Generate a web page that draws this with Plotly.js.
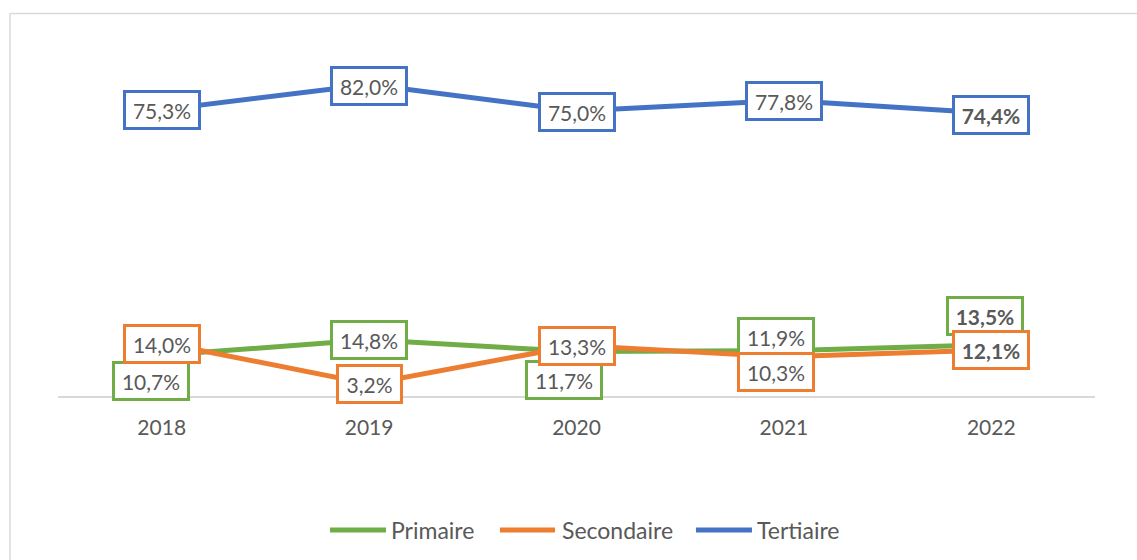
<!DOCTYPE html>
<html>
<head>
<meta charset="utf-8">
<script src="https://cdn.plot.ly/plotly-3.0.1.min.js"></script>
<style>html,body{margin:0;padding:0;background:#fff;}#chart{width:1137px;height:560px;}</style>
</head>
<body>
<div id="chart"></div>
<script>
const years = ['2018', '2019', '2020', '2021', '2022'];
const primaire = [10.7, 14.8, 11.7, 11.9, 13.5];
const secondaire = [14.0, 3.2, 13.3, 10.3, 12.1];
const tertiaire = [75.3, 82.0, 75.0, 77.8, 74.4];
const seriesNames = ['Primaire', 'Secondaire', 'Tertiaire'];
const colors = ['#70AD47', '#ED7D31', '#4472C4'];

// label offsets (pixels) per point, style only
const offsets = {
  Primaire:   [[-11, -26], [0, 0], [-13, -28], [-8, 14], [-6, 29]],
  Secondaire: [[0, -1], [0, 0], [0, -1], [-8, -15], [0, 0]],
  Tertiaire:  [[0, 0], [0, -1.5], [0, -1], [0, -0.6], [0, -1.7]]
};

// custom legend placement (paper coords), style only
const legendPos = [
  {x0: 0.2623, x1: 0.3163, tx: 0.3192},
  {x0: 0.4262, x1: 0.4793, tx: 0.4841},
  {x0: 0.6152, x1: 0.6692, tx: 0.6721}
];
const legendY = -0.392;

const allSeries = [primaire, secondaire, tertiaire];
const FONT = 'Lato, "Open Sans", sans-serif';

const traces = allSeries.map((vals, i) => ({
  type: 'scatter', mode: 'lines', name: seriesNames[i],
  x: years, y: vals,
  line: {color: colors[i], width: 5},
  hoverinfo: 'skip', showlegend: false
}));

function fmt(v) { return v.toFixed(1).replace('.', ',') + '%'; }

const annotations = [];
[2, 0, 1].forEach(i => {
  const vals = allSeries[i];
  const offs = offsets[seriesNames[i]];
  vals.forEach((v, j) => {
    const txt = fmt(v);
    const last = j === vals.length - 1;
    annotations.push({
      x: j, y: v, xref: 'x', yref: 'y',
      text: last ? '<b>' + txt + '</b>' : txt,
      showarrow: false,
      xshift: offs[j][0], yshift: offs[j][1],
      font: {family: FONT, size: 21, color: '#595959'},
      bgcolor: '#ffffff', bordercolor: colors[i], borderwidth: 3, borderpad: 0,
      width: txt.length <= 4 ? 61 : 72, height: 34,
      align: 'center', valign: 'middle'
    });
  });
});

const shapes = [
  {type: 'line', xref: 'paper', yref: 'paper', x0: -0.0463, x1: 1.1, y0: 1.1184, y1: 1.1184,
   line: {color: '#d9d9d9', width: 1.5}},
  {type: 'line', xref: 'paper', yref: 'paper', x0: -0.0463, x1: -0.0463, y0: 1.1184, y1: -0.6,
   line: {color: '#d9d9d9', width: 1.5}}
];

seriesNames.forEach((name, i) => {
  const p = legendPos[i];
  shapes.push({type: 'line', xref: 'paper', yref: 'paper', x0: p.x0, x1: p.x1, y0: legendY, y1: legendY,
    line: {color: colors[i], width: 5}});
  annotations.push({xref: 'paper', yref: 'paper', x: p.tx, y: legendY, xanchor: 'left', yanchor: 'middle',
    text: name, showarrow: false, font: {family: FONT, size: 23, color: '#595959'}});
});

const layout = {
  width: 1137, height: 560,
  margin: {l: 58, r: 42, t: 54, b: 164},
  paper_bgcolor: '#ffffff', plot_bgcolor: '#ffffff',
  showlegend: false,
  xaxis: {
    type: 'category', range: [-0.5, 4.5], autorange: false,
    showline: true, linecolor: '#d9d9d9', linewidth: 1.5,
    showgrid: false, zeroline: false, ticks: '',
    tickfont: {family: FONT, size: 21, color: '#595959'},
    ticklabelstandoff: 12, fixedrange: true
  },
  yaxis: {
    range: [0, 90], autorange: false, visible: false, showgrid: false, zeroline: false, fixedrange: true
  },
  annotations: annotations,
  shapes: shapes
};

Plotly.newPlot('chart', traces, layout, {staticPlot: true, displayModeBar: false});
</script>
</body>
</html>
